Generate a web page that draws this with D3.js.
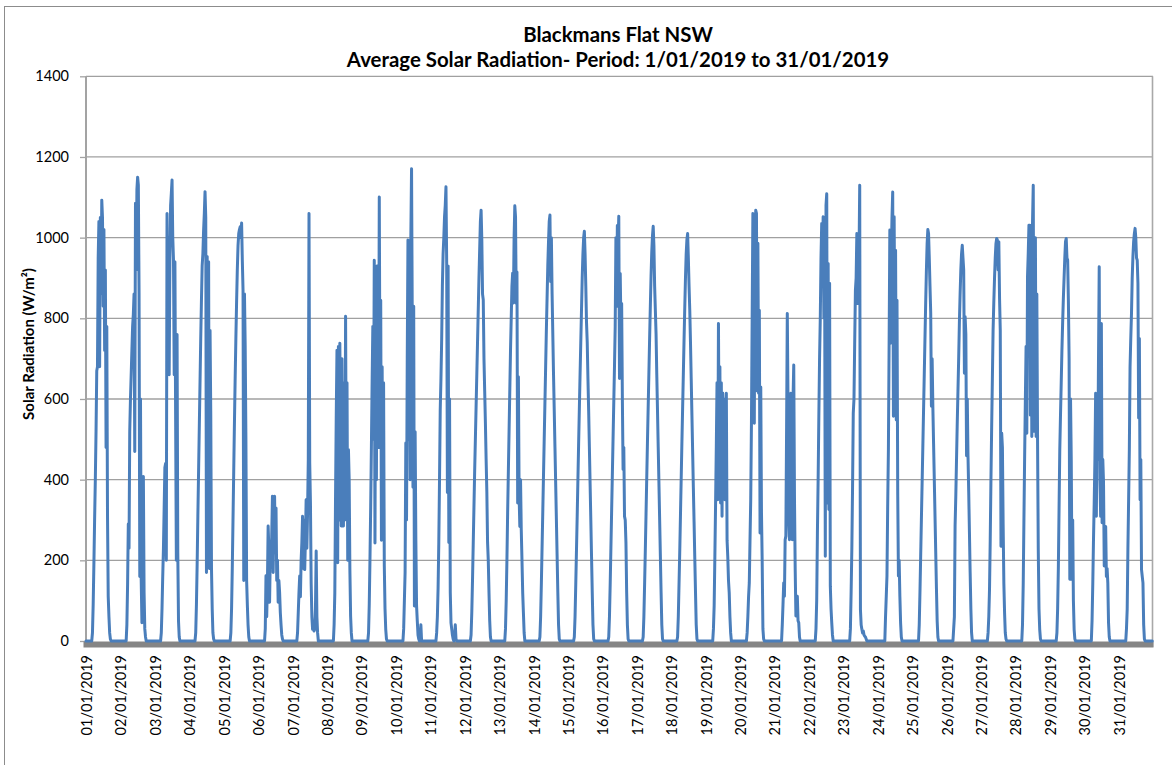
<!DOCTYPE html>
<html><head><meta charset="utf-8">
<script src="https://cdn.jsdelivr.net/npm/d3@7"></script>
<style>
body{margin:0;background:#fff}
svg{display:block}
text{font-family:Lato,'Liberation Sans',Arial,sans-serif;fill:#000}
</style>
</head><body>
<svg id="chart" width="1172" height="765"></svg>
<script>
// ---- text ----
const titleLines = ["Blackmans Flat NSW", "Average Solar Radiation- Period: 1/01/2019 to 31/01/2019"];
const yAxisTitle = "Solar Radiation (W/m²)";
const yTicks = [0, 200, 400, 600, 800, 1000, 1200, 1400];
const dayLabels = ["01/01/2019","02/01/2019","03/01/2019","04/01/2019","05/01/2019","06/01/2019","07/01/2019","08/01/2019","09/01/2019","10/01/2019","11/01/2019","12/01/2019","13/01/2019","14/01/2019","15/01/2019","16/01/2019","17/01/2019","18/01/2019","19/01/2019","20/01/2019","21/01/2019","22/01/2019","23/01/2019","24/01/2019","25/01/2019","26/01/2019","27/01/2019","28/01/2019","29/01/2019","30/01/2019","31/01/2019"];

// ---- half-hourly solar radiation (W/m²), 48 readings per day from 00:00 ----
const day01 = [0,0,0,0,0,0,0,0,0, 20,90,190,300,400,520,670,680,950,1040,680,1050,860,1093,1050,830,1020,720,920,480,780,310,110,60,20,5, 0,0,0,0,0,0,0,0,0,0,0,0,0];
const day02 = [0,0,0,0,0,0,0,0,0, 40,140,290,230,520,600,660,720,780,810,860,470,1085,920,1120,1150,1130,860,160,600,150,45,200,408,120,30,10, 0,0,0,0,0,0,0,0,0,0,0,0];
const day03 = [0,0,0,0,0,0,0,0,0, 20,80,160,230,330,430,440,200,1060,700,1000,660,950,1080,1110,1143,1000,945,660,940,550,200,760,220,50,10, 0,0,0,0,0,0,0,0,0,0,0,0,0];
const day04 = [0,0,0,0,0,0,0,0,0, 20,90,190,310,420,530,640,750,845,930,960,1018,1060,1114,1050,170,953,400,940,180,770,560,180,80,20,5, 0,0,0,0,0,0,0,0,0,0,0,0,0];
const day05 = [0,0,0,0,0,0,0,0,0,0, 20,80,180,300,420,540,650,750,840,920,980,1010,1020,1027,1000,1036,944,870,150,860,730,500,150,90,40,10, 0,0,0,0,0,0,0,0,0,0,0,0];
const day06 = [0,0,0,0,0,0,0,0,0,0, 30,162,60,140,285,230,96,210,180,260,359,170,300,359,219,330,150,200,96,150,120,70,40,15,5, 0,0,0,0,0,0,0,0,0,0,0,0,0];
const day07 = [0,0,0,0,0,0,0, 20,70,120,161,110,200,243,309,180,300,177,250,350,230,320,450,1060,441,342,144,60,29,35,25,30,80,223,60,20, 0,0,0,0,0,0,0,0,0,0,0,0];
const day08 = [0,0,0,0,0,0,0,0,0,0, 40,120,359,560,721,194,730,300,738,450,285,700,400,285,640,300,805,380,640,200,474,400,177,62,20, 0,0,0,0,0,0,0,0,0,0,0,0,0];
const day09 = [0,0,0,0,0,0,0,0,0,0, 20,90,200,330,480,639,780,500,944,243,860,400,930,800,480,1101,600,845,250,680,309,640,186,80,29,5, 0,0,0,0,0,0,0,0,0,0,0,0];
const day10 = [0,0,0,0,0,0,0,0,0,0,0, 30,100,170,491,300,700,994,500,900,400,1000,1171,796,381,830,87,519,250,87,50,15,5,0,10,40, 0,0,0,0,0,0,0,0,0,0,0,0];
const day11 = [0,0,0,0,0,0,0,0,0, 20,60,130,244,400,574,650,747,880,960,1000,1052,1080,1126,937,368,930,244,600,120,45,30,15,5,0,10,40,5, 0,0,0,0,0,0,0,0,0,0,0];
const day12 = [0,0,0,0,0,0,0,0,0, 15,70,150,240,330,420,500,580,660,740,820,900,970,1040,1068,994,860,846,700,620,540,450,370,245,200,120,50,10, 0,0,0,0,0,0,0,0,0,0,0];
const day13 = [0,0,0,0,0,0,0,0,0, 30,100,200,318,420,520,620,720,800,880,912,838,1000,1079,1052,837,915,342,655,360,284,400,276,200,120,70,20, 0,0,0,0,0,0,0,0,0,0,0,0];
const day14 = [0,0,0,0,0,0,0,0,0, 10,60,140,230,320,410,500,590,680,770,850,930,990,1040,1056,891,1000,860,760,660,570,480,390,300,210,120,40,5, 0,0,0,0,0,0,0,0,0,0,0];
const day15 = [0,0,0,0,0,0,0,0,0, 10,60,140,225,310,400,490,575,660,740,820,900,960,1000,1016,960,880,790,740,650,570,480,390,300,210,120,40,5, 0,0,0,0,0,0,0,0,0,0,0];
const day16 = [0,0,0,0,0,0,0,0,0, 10,60,140,230,320,410,500,590,680,779,1000,830,1030,985,1053,651,911,780,837,600,425,480,309,300,243,120,40,5, 0,0,0,0,0,0,0,0,0,0,0];
const day17 = [0,0,0,0,0,0,0,0,0, 10,60,140,225,315,405,495,580,665,750,830,905,965,1005,1028,980,880,820,760,660,570,480,390,300,210,120,40,5, 0,0,0,0,0,0,0,0,0,0,0];
const day18 = [0,0,0,0,0,0,0,0,0, 10,60,140,220,310,400,490,575,660,745,825,900,960,995,1010,950,880,820,740,650,560,470,380,295,205,120,40,5, 0,0,0,0,0,0,0,0,0,0,0];
const day19 = [0,0,0,0,0,0,0,0,0,0,0, 30,87,210,342,480,640,350,787,450,680,342,640,309,615,420,600,350,560,614,250,209,150,120,60,20, 0,0,0,0,0,0,0,0,0,0,0,0];
const day20 = [0,0,0,0,0,0,0,0,0,0, 20,60,110,144,250,350,540,800,1060,600,540,1000,1068,1060,620,986,614,820,268,630,318,194,30,5, 0,0,0,0,0,0,0,0,0,0,0,0,0,0];
const day21 = [0,0,0,0,0,0,0,0,0,0,0, 40,90,144,111,251,260,520,812,598,300,251,560,614,300,251,600,684,359,180,62,100,111,50,45,10, 0,0,0,0,0,0,0,0,0,0,0,0];
const day22 = [0,0,0,0,0,0,0,0,0,0, 30,100,268,400,557,700,800,950,1035,900,1052,800,1000,210,1080,1109,342,936,326,887,136,80,45,15, 0,0,0,0,0,0,0,0,0,0,0,0,0,0];
const day23 = [0,0,0,0,0,0,0,0,0,0, 30,120,227,380,565,600,740,870,900,1010,837,880,950,1130,78,40,29,20,25,15,12,10,5, 0,0,0,0,0,0,0,0,0,0,0,0,0,0,0];
const day24 = [0,0,0,0,0,0,0,0,0,0,0, 60,110,161,334,474,738,1019,738,950,1050,1113,557,1052,750,969,548,845,366,161,200,111,45,10, 0,0,0,0,0,0,0,0,0,0,0,0,0,0];
const day25 = [0,0,0,0,0,0,0,0,0,0, 40,120,210,300,390,480,570,660,750,840,920,985,1020,1010,950,880,813,582,700,580,490,400,310,220,130,50,10, 0,0,0,0,0,0,0,0,0,0,0];
const day26 = [0,0,0,0,0,0,0,0,0,0, 30,60,285,360,450,540,620,700,790,860,920,960,981,950,920,664,804,760,459,600,460,370,270,170,80,20, 0,0,0,0,0,0,0,0,0,0,0,0];
const day27 = [0,0,0,0,0,0,0,0,0,0, 20,60,128,250,400,530,650,771,840,900,950,985,998,994,920,990,850,771,235,515,480,290,144,70,20,5, 0,0,0,0,0,0,0,0,0,0,0,0];
const day28 = [0,0,0,0,0,0,0,0,0,0, 40,140,300,458,600,730,515,903,960,1031,1031,560,1031,507,1040,1130,520,887,1000,507,860,499,227,80,29,5, 0,0,0,0,0,0,0,0,0,0,0,0];
const day29 = [0,0,0,0,0,0,0,0,0,0, 20,80,180,330,474,560,640,722,790,850,900,950,990,998,950,944,845,700,153,600,449,153,300,100,29,5, 0,0,0,0,0,0,0,0,0,0,0,0];
const day30 = [0,0,0,0,0,0,0,0,0,0,0, 50,140,250,342,450,614,309,550,450,700,928,400,309,787,293,450,392,186,250,284,160,180,144,45,10, 0,0,0,0,0,0,0,0,0,0,0,0];
const day31 = [0,0,0,0,0,0,0,0,0,0,0, 30,78,227,350,474,680,750,812,900,953,990,1010,1023,1000,950,944,887,553,750,350,450,177,160,144,40,5, 0,0,0,0,0,0,0,0,0,0,0];

const days = [day01,day02,day03,day04,day05,day06,day07,day08,day09,day10,day11,day12,day13,day14,day15,day16,day17,day18,day19,day20,day21,day22,day23,day24,day25,day26,day27,day28,day29,day30,day31];

// ---- build series ----
const series = [];
days.forEach((vals, d) => vals.forEach((v, k) => {
  series.push({ t: new Date(Date.UTC(2019, 0, 1 + d, 0, 30 * k)), v });
}));

const svg = d3.select("#chart");
const plot = { left: 86, right: 1153, top: 76.3, bottom: 641 };

const x = d3.scaleUtc()
  .domain([new Date(Date.UTC(2019, 0, 1)), new Date(Date.UTC(2019, 1, 1))])
  .range([plot.left, plot.right]);
const y = d3.scaleLinear().domain([0, 1400]).range([plot.bottom, plot.top]);

// chart border
svg.append("rect").attr("x", 4.5).attr("y", 6.5).attr("width", 1200).attr("height", 800)
  .attr("fill", "none").attr("stroke", "#8c8c8c").attr("stroke-width", 1);

// gridlines
svg.append("g").selectAll("line").data(yTicks.filter(v => v > 0)).join("line")
  .attr("x1", plot.left).attr("x2", plot.right)
  .attr("y1", d => y(d)).attr("y2", d => y(d))
  .attr("stroke", "#a0a0a0").attr("stroke-width", 1.3);

// y axis
const yAxis = d3.axisLeft(y).tickValues(yTicks).tickSize(6).tickPadding(11).tickFormat(d3.format("d"));
const gy = svg.append("g").attr("transform", `translate(${plot.left},0)`).call(yAxis);
gy.select(".domain").attr("stroke", "#a3a3a3").attr("stroke-width", 2)
  .attr("d", `M0,${plot.top}V${plot.bottom + 6}`);
gy.selectAll(".tick line").attr("stroke", "#a3a3a3").attr("stroke-width", 1.3);
gy.selectAll(".tick text").attr("font-size", 14.5).attr("fill", "#000")
  .attr("font-family", "Lato,'Liberation Sans',Arial,sans-serif");

// right border of plot
svg.append("line").attr("x1", plot.right - 0.5).attr("x2", plot.right - 0.5)
  .attr("y1", plot.top).attr("y2", plot.bottom + 6)
  .attr("stroke", "#a8a8a8").attr("stroke-width", 1.6);

// x axis band
svg.append("rect").attr("x", plot.left - 2.5).attr("y", plot.bottom + 0.5)
  .attr("width", plot.right - plot.left + 3).attr("height", 6)
  .attr("fill", "#858585");

// x labels (one per day)
const labelG = svg.append("g");
dayLabels.forEach((lab, i) => {
  const xc = x(new Date(Date.UTC(2019, 0, 1 + i))) + 1;
  labelG.append("text")
    .attr("transform", `translate(${xc},655) rotate(-90)`)
    .attr("text-anchor", "end").attr("dy", "0.35em")
    .attr("font-size", 14.5)
    .text(lab);
});

// series line
const line = d3.line().x(d => x(d.t)).y(d => y(d.v));
svg.append("path").datum(series)
  .attr("fill", "none").attr("stroke", "#4a7ebb").attr("stroke-width", 3)
  .attr("stroke-linejoin", "round").attr("stroke-linecap", "round")
  .attr("d", line);

// titles
svg.append("text").attr("x", 618).attr("y", 42).attr("text-anchor", "middle")
  .attr("font-weight", "bold").attr("font-size", 20.4).text(titleLines[0]);
svg.append("text").attr("x", 618).attr("y", 67).attr("text-anchor", "middle")
  .attr("font-weight", "bold").attr("font-size", 20.4).text(titleLines[1]);

svg.append("text")
  .attr("transform", `translate(29,344) rotate(-90)`)
  .attr("text-anchor", "middle").attr("dy", "0.35em")
  .attr("font-weight", "bold").attr("font-size", 15).text(yAxisTitle);
</script>
</body></html>
